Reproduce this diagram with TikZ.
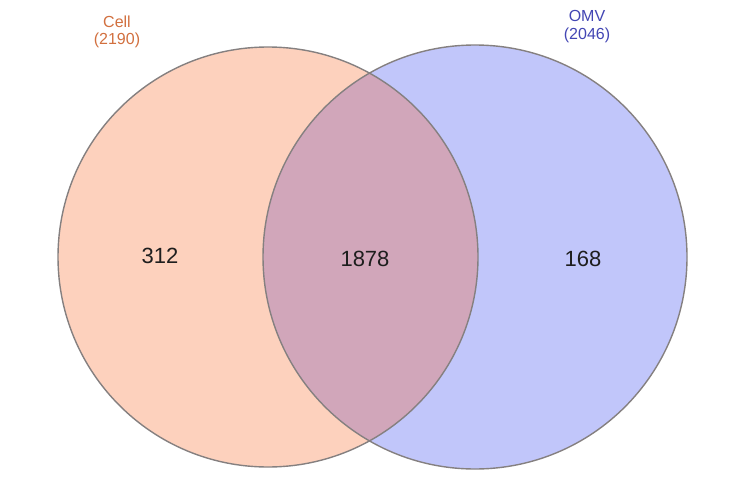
\documentclass[tikz,border=0pt]{standalone}
\usepackage{fontspec}
\setmainfont{Liberation Sans}
\definecolor{cellfill}{HTML}{FDD1BD}
\definecolor{omvfill}{HTML}{C1C6FA}
\definecolor{bothfill}{HTML}{D1A6BA}
\definecolor{edge}{HTML}{858080}
\definecolor{celltext}{HTML}{D2703F}
\definecolor{omvtext}{HTML}{4346B4}
\definecolor{numtext}{HTML}{1E1E1E}
\tikzset{
  setlabel/.style={font=\fontsize{16}{18}\selectfont, align=center, inner sep=0pt},
  count/.style={font=\fontsize{22}{24}\selectfont, inner sep=0pt, text=numtext},
  rim/.style={draw=edge, line width=1.4pt}
}
\begin{document}
\begin{tikzpicture}[x=1pt,y=-1pt]
\useasboundingbox (0,0) rectangle (738,492);
\fill[white] (0,0) rectangle (738,492);
\coordinate (cL) at (268,257);
\coordinate (cR) at (475,257);
\fill[cellfill] (cL) circle[radius=210];
\fill[omvfill] (cR) circle[radius=212];
\begin{scope}
  \clip (cL) circle[radius=210];
  \fill[bothfill] (cR) circle[radius=212];
\end{scope}
\draw[rim] (cL) circle[radius=210];
\draw[rim] (cR) circle[radius=212];
\node[count] (a) at (160,256) {312};
\node[count] (b) at (365,259) {1878};
\node[count] (c) at (583,259) {168};
\node[setlabel, text=celltext] (l1) at (117,22) {Cell};
\node[setlabel, text=celltext] (l2) at (117,40) {(2190)};
\node[setlabel, text=omvtext] (r1) at (587,16) {OMV};
\node[setlabel, text=omvtext] (r2) at (587,35) {(2046)};
\end{tikzpicture}
\end{document}
